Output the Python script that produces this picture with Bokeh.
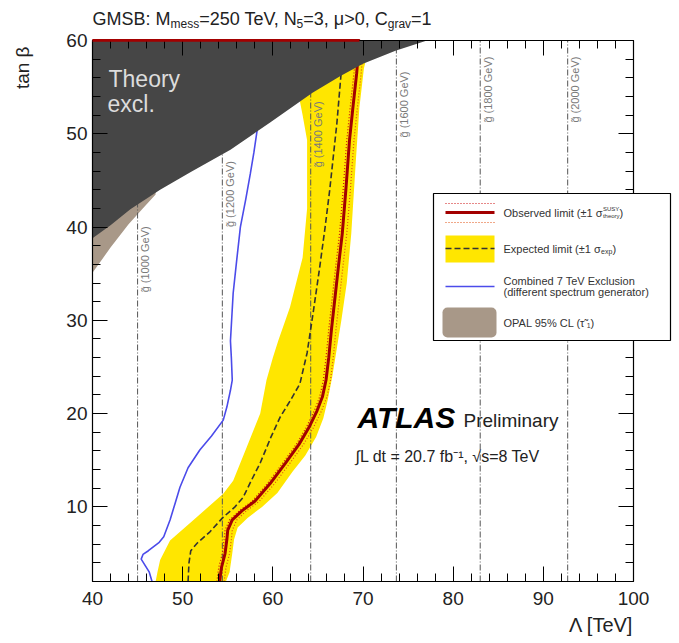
from math import pi

from bokeh.plotting import figure
from bokeh.models import (Range1d, LinearAxis, FixedTicker, Label,
                          BoxAnnotation, Arrow)
from bokeh.embed import file_html
from bokeh.resources import INLINE

FONT = "Liberation Sans"

# ---------------------------------------------------------------- data
x_ticks = [40, 50, 60, 70, 80, 90, 100]
x_tick_labels = ["40", "50", "60", "70", "80", "90", "100"]
y_ticks = [10, 20, 30, 40, 50, 60]
y_tick_labels = ["10", "20", "30", "40", "50", "60"]

# gluino mass iso-lines (Lambda in TeV) and where their labels start (tan beta)
gluino_mass = ["1000", "1200", "1400", "1600", "1800", "2000"]
gluino_lam = [45.0, 54.4, 64.2, 73.7, 83.0, 92.7]
gluino_label_tb = [33.0, 40.0, 46.4, 49.6, 51.2, 51.2]

# theoretically excluded region (boundary, excluded above)
theory_lam = [40.0, 42.0, 44.2, 47.5, 50.9, 55.3, 59.7, 64.4, 67.5, 70.0, 73.6, 77.1]
theory_tb = [38.8, 40.2, 41.9, 44.0, 45.9, 48.3, 51.2, 54.4, 56.2, 57.5, 58.9, 60.0]

# OPAL 95% CL stau limit
opal_lam = [40.0, 42.0, 44.0, 45.5, 47.0]
opal_tb_low = [35.1, 37.8, 40.3, 41.9, 43.5]
opal_tb_high = [40.0, 41.5, 43.0, 44.0, 45.0]

# expected limit +-1 sigma band
band_left_lam = [47.0, 47.2, 47.5, 48.6, 51.2, 54.5, 55.6, 57.1, 58.6, 59.3, 60.0,
                 60.6, 61.9, 63.3, 63.8, 63.8, 63.3, 63.0, 63.2]
band_left_tb = [2.0, 3.0, 4.3, 6.4, 8.6, 11.4, 12.8, 16.4, 20.0, 23.6, 26.0,
                27.8, 31.4, 36.7, 42.0, 49.3, 52.0, 53.5, 57.0]
band_right_lam = [54.8, 55.2, 55.5, 55.7, 56.1, 57.2, 58.8, 60.5, 62.2, 63.6, 64.8,
                  65.6, 66.1, 66.6, 67.1, 67.6, 68.2, 68.7, 69.2, 69.6, 70.1, 70.6]
band_right_tb = [2.0, 3.0, 5.0, 6.5, 7.8, 8.8, 10.0, 11.5, 13.8, 15.5, 17.5,
                 19.5, 21.5, 24.0, 27.0, 30.0, 34.0, 39.3, 47.0, 52.8, 57.0, 59.0]

# expected limit
exp_lam = [50.6, 50.7, 50.9, 51.6, 53.0, 54.5, 55.8, 56.7, 57.6, 58.6, 59.8, 60.8,
           62.0, 63.0, 63.8, 64.5, 65.2, 65.8, 66.3, 66.7, 67.1, 67.6, 67.8]
exp_tb = [2.0, 4.0, 5.3, 6.1, 7.3, 8.9, 10.0, 11.0, 12.8, 14.7, 17.5, 19.6,
          21.5, 23.2, 26.5, 31.0, 35.7, 40.0, 43.9, 47.5, 51.1, 56.8, 60.0]

# observed limit, closed along tan beta = 60
obs_lam = [54.1, 54.3, 54.7, 54.9, 55.0, 55.5, 56.6, 58.0, 59.7, 61.4, 62.9, 64.0,
           64.9, 65.5, 65.9, 66.2, 66.5, 66.9, 67.3, 67.7, 68.1, 68.5, 68.9, 69.3,
           69.6, 40.0]
obs_tb = [2.0, 3.5, 5.0, 6.5, 7.5, 8.6, 9.6, 10.6, 12.5, 14.7, 16.7, 18.5,
          20.3, 21.8, 23.6, 26.0, 29.0, 32.5, 36.0, 39.3, 44.0, 49.3, 53.0, 56.5,
          60.0, 60.0]
obs_up_lam = [54.6, 54.8, 55.2, 55.4, 55.5, 56.0, 57.1, 58.5, 60.2, 61.9, 63.4, 64.5,
              65.4, 66.0, 66.4, 66.7, 67.0, 67.4, 67.8, 68.2, 68.6, 69.0, 69.4, 69.8,
              70.1]
obs_dn_lam = [53.8, 54.0, 54.4, 54.6, 54.7, 55.2, 56.3, 57.7, 59.4, 61.1, 62.6, 63.7,
              64.6, 65.2, 65.6, 65.9, 66.2, 66.6, 67.0, 67.4, 67.8, 68.2, 68.6, 69.0,
              69.3]

# combined 7 TeV exclusion
blue_lam = [46.6, 46.3, 45.4, 45.6, 46.2, 47.4, 47.9, 48.6, 49.2, 49.7, 50.6, 51.9,
            53.2, 54.5, 54.9, 55.3, 55.5, 55.4, 55.3, 55.6, 56.0, 56.4, 57.0, 57.5,
            57.9, 58.2, 58.5]
blue_tb = [2.0, 3.0, 4.4, 4.9, 5.3, 6.2, 6.8, 8.6, 10.5, 12.1, 14.2, 16.1,
           17.6, 19.3, 20.7, 22.5, 23.6, 26.0, 27.8, 32.9, 36.5, 40.0, 43.0, 45.7,
           48.0, 50.0, 52.0]

# ---------------------------------------------------------------- colours
YELLOW = "#ffe600"
OBS_RED = "#a30000"
BLUE = "#4b4bea"
OPAL = "#a89888"
DARK = "#464646"

# ---------------------------------------------------------------- geometry
# The data frame (40..100 x 2..60) sits at these pixel edges of the canvas;
# the plotting area spans the whole canvas so that texts outside the frame
# are not clipped, and the axes are pinned to the frame edges.
WIDTH, HEIGHT = 679, 643
FL, FR, FT, FB = 92, 633, 40, 581
LAM0, LAM1, TB0, TB1 = 40, 100, 2, 60


def X(px):
    return LAM0 + (px - FL) * (LAM1 - LAM0) / (FR - FL)


def Y(py):
    return TB1 - (py - FT) * (TB1 - TB0) / (FB - FT)


# Arial / Liberation Sans advance widths (1/1000 em) for laying out rich text
W = {}
for ch in "ijl":
    W[ch] = 222
for ch in " ,.:ftI":
    W[ch] = 278
for ch in "()r-":
    W[ch] = 333
for ch in "csvxyzkJ":
    W[ch] = 500
for ch in "abdeghnopqu0123456789L":
    W[ch] = 556
for ch in "FTZ":
    W[ch] = 611
for ch in "ABEKPSVXY":
    W[ch] = 667
for ch in "CDHNRUw":
    W[ch] = 722
for ch in "GOQ":
    W[ch] = 778
for ch in "mM":
    W[ch] = 833
W.update({"=": 584, ">": 584, "±": 584, "%": 889, "μ": 577, "σ": 620, "τ": 450,
          "\u0303": 0})
KERN = {"Te": -100, "V,": -130}


def text_width(s, size):
    w = sum(W.get(c, 556) for c in s)
    w += sum(KERN.get(s[i:i + 2], 0) for i in range(len(s) - 1))
    return w / 1000.0 * size


p = figure(width=WIDTH, height=HEIGHT,
           x_range=Range1d(X(0), X(WIDTH)), y_range=Range1d(Y(HEIGHT), Y(0)),
           output_backend="svg", toolbar_location=None,
           min_border_left=0, min_border_right=0,
           min_border_top=0, min_border_bottom=0)
p.outline_line_color = None
p.background_fill_color = "white"
p.border_fill_color = "white"
p.xgrid.visible = False
p.ygrid.visible = False

xt = FixedTicker(ticks=x_ticks, minor_ticks=list(range(40, 101, 2)))
yt = FixedTicker(ticks=y_ticks, minor_ticks=list(range(2, 61, 2)))
bottom_ax = p.xaxis[0]
left_ax = p.yaxis[0]
bottom_ax.ticker = xt
left_ax.ticker = yt
bottom_ax.fixed_location = TB0
left_ax.fixed_location = LAM0
bottom_ax.major_label_overrides = dict(zip(x_ticks, x_tick_labels))
left_ax.major_label_overrides = dict(zip(y_ticks, y_tick_labels))
top_ax = LinearAxis(ticker=xt, fixed_location=TB1)
right_ax = LinearAxis(ticker=yt, fixed_location=LAM1)
p.add_layout(top_ax, "above")
p.add_layout(right_ax, "right")

for ax in (bottom_ax, top_ax):
    ax.bounds = (LAM0, LAM1)
for ax in (left_ax, right_ax):
    ax.bounds = (TB0, TB1)
for ax in (bottom_ax, left_ax, top_ax, right_ax):
    ax.axis_line_color = "black"
    ax.axis_line_width = 1.2
    ax.major_tick_line_color = "black"
    ax.minor_tick_line_color = "black"
    ax.major_tick_in = 15
    ax.major_tick_out = 0
    ax.minor_tick_in = 8
    ax.minor_tick_out = 0
    ax.major_label_text_font = FONT
    ax.major_label_text_font_size = "19px"
    ax.major_label_text_color = "#222222"
for ax in (top_ax, right_ax):
    ax.major_label_text_color = None
bottom_ax.major_label_standoff = 10
left_ax.major_label_standoff = 5

# ---------------------------------------------------------------- contours
p.patch(band_left_lam + band_right_lam[::-1], band_left_tb + band_right_tb[::-1],
        fill_color=YELLOW, line_color=None)
p.varea(x=opal_lam, y1=opal_tb_low, y2=opal_tb_high, fill_color=OPAL)

for lam in gluino_lam:
    p.line([lam, lam], [TB0, TB1], line_color="#555555", line_width=1,
           line_dash="6 2 1 2")

p.line(exp_lam, exp_tb, line_color="#333333", line_width=1.6, line_dash="6 3")
p.line(blue_lam, blue_tb, line_color=BLUE, line_width=1.6)
p.line(obs_dn_lam, obs_tb[:len(obs_dn_lam)], line_color="#cc1010", line_width=1.2,
       line_dash="1 2")
p.line(obs_up_lam, obs_tb[:len(obs_up_lam)], line_color="#e05010", line_width=1.2,
       line_dash="1 2")
p.line(obs_lam, obs_tb, line_color=OBS_RED, line_width=3)

# theoretically excluded region on top
p.varea(x=theory_lam, y1=theory_tb, y2=TB1, fill_color=DARK)
p.line(obs_lam[-2:], obs_tb[-2:], line_color=OBS_RED, line_width=2.5,
       level="annotation")

# ---------------------------------------------------------------- labels
for mass, lam, tb in zip(gluino_mass, gluino_lam, gluino_label_tb):
    p.add_layout(Label(x=lam + 0.15, y=tb, angle=pi / 2,
                       text="g\u0303 (" + mass + " GeV)",
                       text_font=FONT, text_font_size="11px", text_color="#7a7a7a",
                       text_align="left", text_baseline="top"))


def label(px, py, text, size, color="#222222", style="normal", align="left",
          angle=0.0):
    """Place a text whose glyph middle sits at pixel (px, py)."""
    p.add_layout(Label(x=X(px), y=Y(py), text=text, text_font=FONT,
                       text_font_size=f"{size}px", text_color=color,
                       text_font_style=style, angle=angle,
                       text_align=align, text_baseline="middle"))


def rich_text(x0, y0, runs, color="#222222"):
    x = x0
    stack = 0.0
    for txt, size, shift, adv in runs:
        label(x, y0 + shift, txt, size, color=color)
        w = text_width(txt, size)
        if adv:
            x += max(w, stack)
            stack = 0.0
        else:
            stack = max(stack, w)


rich_text(92, 18, [("GMSB: M", 18, 0, True), ("mess", 12, 5, True),
                   ("=250 TeV, N", 18, 0, True), ("5", 12, 5, True),
                   ("=3, μ>0, C", 18, 0, True), ("grav", 12, 5, True),
                   ("=1", 18, 0, True)])

label(22, 46, "tan β", 19, align="right", angle=pi / 2)
label(FR, 624, "Λ [TeV]", 20, align="right")

label(108, 78, "Theory", 23, color="#dcdcdc")
label(107, 103, "excl.", 23, color="#dcdcdc")

label(357, 417, "ATLAS", 30, color="black", style="bold italic")
label(463, 420, "Preliminary", 19)
label(355, 456, "∫L dt = 20.7 fb⁻¹, √s=8 TeV", 16)

# ---------------------------------------------------------------- legend
p.add_layout(BoxAnnotation(left=X(433), right=X(670), top=Y(193), bottom=Y(340),
                           fill_color="white", fill_alpha=1.0,
                           line_color="black", line_alpha=1.0, line_width=1.2))
p.add_layout(BoxAnnotation(left=X(445), right=X(494), top=Y(235), bottom=Y(262),
                           fill_color=YELLOW, fill_alpha=1.0, line_color=None))
p.add_layout(BoxAnnotation(left=X(442), right=X(496), top=Y(307), bottom=Y(337),
                           fill_color=OPAL, fill_alpha=1.0, line_color=None,
                           border_radius=5))


def swatch(py, color, width, dash="solid"):
    p.add_layout(Arrow(end=None, x_start=X(445), y_start=Y(py), x_end=X(494),
                       y_end=Y(py), line_color=color, line_width=width,
                       line_dash=dash))


swatch(203, "#cc1010", 1.2, "1 2")
swatch(212, OBS_RED, 3)
swatch(222, "#e05010", 1.2, "1 2")
swatch(248, "#333333", 1.6, "6 3")
swatch(286, BLUE, 1.6)

rich_text(503, 212, [("Observed limit (±1 σ", 11, 0, True), ("SUSY", 6, -4, False),
                     ("theory", 6, 3, True), (")", 11, 0, True)], color="#333333")
rich_text(503, 248, [("Expected limit (±1 σ", 11, 0, True), ("exp", 7, 3, True),
                     (")", 11, 0, True)], color="#333333")
rich_text(503, 280, [("Combined 7 TeV Exclusion", 11, 0, True)], color="#333333")
rich_text(503, 291, [("(different spectrum generator)", 11, 0, True)], color="#333333")
rich_text(503, 322, [("OPAL 95% CL (τ\u0303", 11, 0, True), ("1", 7, 3, True),
                     (")", 11, 0, True)], color="#333333")

open("out.html", "w").write(file_html(p, INLINE))
